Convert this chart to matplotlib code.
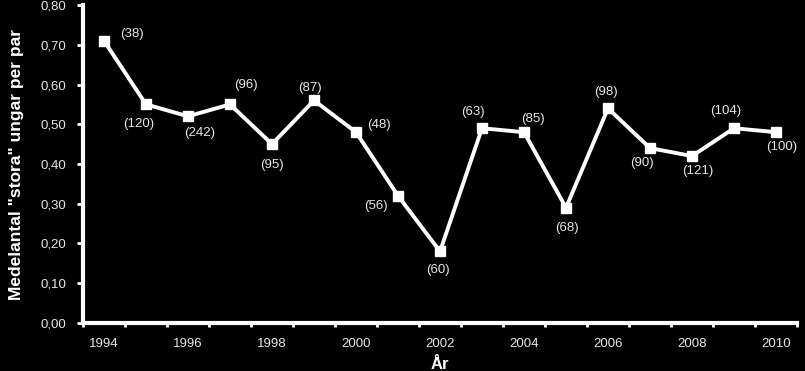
import matplotlib.pyplot as plt
import numpy as np

years = [1994, 1995, 1996, 1997, 1998, 1999, 2000, 2001, 2002,
         2003, 2004, 2005, 2006, 2007, 2008, 2009, 2010]
mean_young = [0.71, 0.55, 0.52, 0.55, 0.45, 0.56, 0.48, 0.32, 0.18,
              0.49, 0.48, 0.29, 0.54, 0.44, 0.42, 0.49, 0.48]
n_pairs = [38, 120, 242, 96, 95, 87, 48, 56, 60,
           63, 85, 68, 98, 90, 121, 104, 100]

# label offsets in pixels (dx, dy) for each point
offsets = [(28, 7), (-7, -20), (12, -17), (16, 19), (0, -21), (-4, 12),
           (23, 7), (-22, -10), (-2, -19), (-9, 16), (9, 13), (1, -20),
           (-2, 16), (-8, -15), (6, -15), (-8, 17), (6, -15)]

plt.rcParams['font.family'] = ['Liberation Sans', 'DejaVu Sans']
txt_col = '#e6e6e6'

fig = plt.figure(figsize=(8.05, 3.71), dpi=100, facecolor='black')
ax = fig.add_axes([0.1031, 0.1294, 0.887, 0.8571], facecolor='black')

x = np.arange(len(years))
ax.plot(x, mean_young, color='white', lw=2.8, marker='s', ms=7,
        markerfacecolor='white', markeredgecolor='white', clip_on=False)

for xi, yi, n, (dx, dy) in zip(x, mean_young, n_pairs, offsets):
    ax.annotate(f'({n})', (xi, yi), xytext=(dx * 0.72, dy * 0.72),
                textcoords='offset points', ha='center', va='center',
                color=txt_col, fontsize=9.5)

ax.set_xlim(-0.5, len(years) - 0.5)
ax.set_ylim(0, 0.8)

ax.set_xticks(x[::2])
ax.set_xticklabels([str(y) for y in years[::2]])
ax.set_xticks(np.arange(len(years) + 1) - 0.5, minor=True)
ax.tick_params(axis='x', which='major', length=0, pad=11, colors=txt_col,
               labelsize=9.5)
ax.tick_params(axis='x', which='minor', length=3, width=2, color='white',
               direction='out')

yt = np.arange(0, 0.81, 0.1)
ax.set_yticks(yt)
ax.set_yticklabels([f'{v:.2f}'.replace('.', ',') for v in yt])
ax.tick_params(axis='y', length=4, width=2, color='white', colors=txt_col,
               labelsize=9.5, pad=8)

for s in ['top', 'right']:
    ax.spines[s].set_visible(False)
for s in ['left', 'bottom']:
    ax.spines[s].set_color('white')
    ax.spines[s].set_linewidth(3)

ax.set_ylabel('Medelantal "stora" ungar per par', color='white',
              fontsize=12.5, fontweight='bold', labelpad=12)
ax.set_xlabel('År', color='white', fontsize=12, fontweight='bold',
              labelpad=5)

fig.savefig('out.png', dpi=100, facecolor='black')
